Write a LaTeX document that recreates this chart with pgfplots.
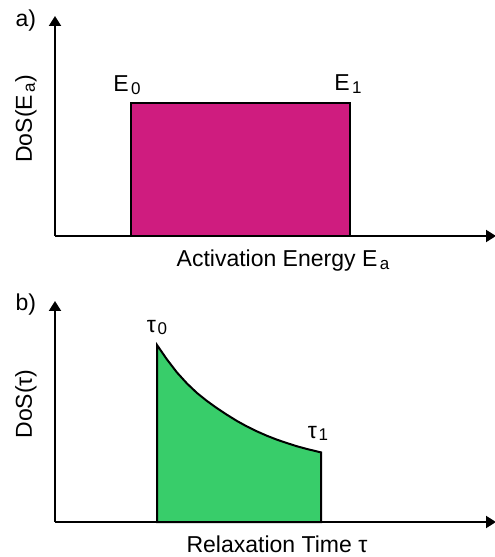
\documentclass[border=0pt]{standalone}
\usepackage{fontspec}
\setmainfont{Liberation Sans}
\usepackage{pgfplots}
\pgfplotsset{compat=1.18}
\usetikzlibrary{arrows.meta}
\definecolor{mag}{RGB}{207,28,127}
\definecolor{grn}{RGB}{56,205,106}
\newcommand\lf{\fontsize{23}{27}\selectfont}
\newcommand\sub[1]{\kern2.5pt\raisebox{-3pt}{\fontsize{17}{17}\selectfont #1}}
\newcommand\tsub[1]{\kern1.5pt\raisebox{-2pt}{\fontsize{17}{17}\selectfont #1}}
\begin{document}
\begin{tikzpicture}[x=1pt,y=1pt]
\useasboundingbox (0,0) rectangle (495,557);
\pgfplotsset{
  panel/.style={
    scale only axis, width=441pt,
    axis lines=left, xtick=\empty, ytick=\empty,
    xmin=0, xmax=441, ymin=0, clip=false,
    axis line style={line width=2pt, -{Triangle[length=10pt,width=12pt]}},
    xlabel style={anchor=base, font=\lf},
    ylabel style={anchor=base, font=\lf},
  }
}
% ---- panel a ----
\begin{axis}[panel, at={(55,321)}, anchor=south west,
  height=220pt, ymax=220,
  xlabel={Activation Energy E\sub{a}},
  xlabel style={at={(axis cs:228,0)}, yshift=-31pt},
  ylabel={DoS(E\sub{a})},
  ylabel style={at={(axis cs:-23,117)}},
]
\addplot[fill=mag, draw=black, line width=2pt] coordinates {
  (76,0) (76,133) (295,133) (295,0)
} -- cycle;
\node[anchor=base,font=\lf] at (axis cs:72,144) {E\sub{0}};
\node[anchor=base,font=\lf] at (axis cs:293,145) {E\sub{1}};
\node[anchor=base west,font=\lf] at (axis cs:-43,209) {a)};
\end{axis}
% ---- panel b ----
\begin{axis}[panel, at={(55,35)}, anchor=south west,
  height=221pt, ymax=221,
  xlabel={Relaxation Time τ},
  xlabel style={at={(axis cs:222,0)}, yshift=-30pt},
  ylabel={DoS(τ)},
  ylabel style={at={(axis cs:-23,118)}},
]
\addplot[fill=grn, draw=black, line width=2pt] coordinates {
  (102,0) (102,177) (112,162.5) (122,149.5) (132,138.5) (142,129)
  (152,121) (162,113.8) (172,107.2) (182,101) (192,95.5) (202,90.6)
  (212,86.2) (222,82.3) (232,78.9) (242,75.7) (252,73) (266,69.6) (266,0)
} -- cycle;
\node[anchor=base,font=\lf] at (axis cs:102,189) {τ\tsub{0}};
\node[anchor=base,font=\lf] at (axis cs:263,83) {τ\tsub{1}};
\node[anchor=base west,font=\lf] at (axis cs:-43,211) {b)};
\end{axis}
\end{tikzpicture}
\end{document}
